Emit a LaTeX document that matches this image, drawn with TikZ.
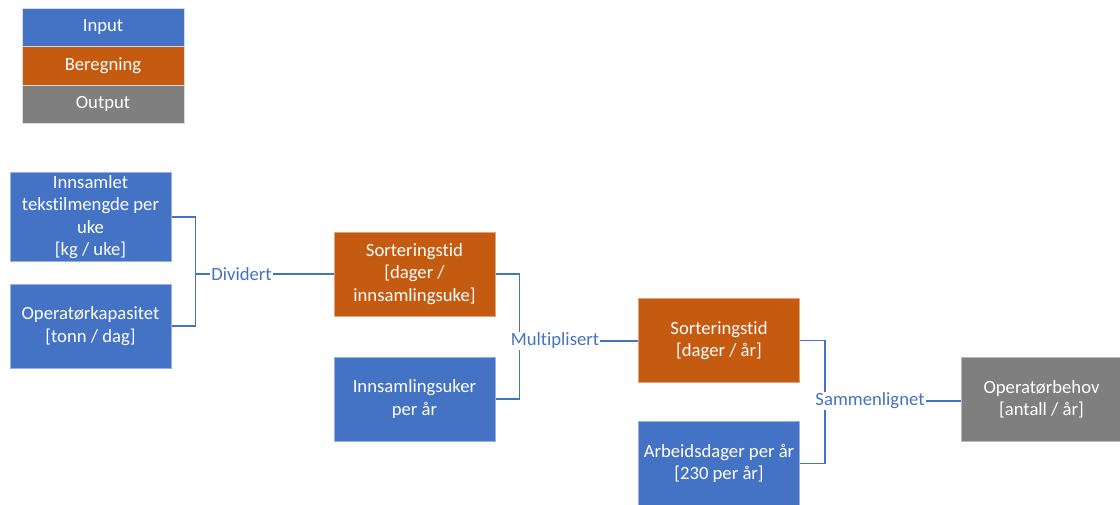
\documentclass[tikz,border=0pt]{standalone}
\usepackage{fontspec}
\setmainfont{Carlito}[Ligatures=NoCommon]
\usetikzlibrary{backgrounds}
\definecolor{inblue}{HTML}{4472C4}
\definecolor{calcorange}{HTML}{C55A11}
\definecolor{outgray}{HTML}{7F7F7F}
\tikzset{
  box/.style={rectangle, minimum width=120.75pt, minimum height=63pt, inner sep=2pt,
    text=white, align=center, font=\fontsize{14}{16.8}\selectfont, line width=0.6pt},
  inbox/.style={box, fill=inblue, draw=inblue!55!white},
  calcbox/.style={box, fill=calcorange, draw=calcorange!55!white},
  outbox/.style={box, fill=outgray, draw=outgray!55!white},
  legend/.style={rectangle, minimum width=121.5pt, minimum height=28.9pt, inner sep=0pt,
    text=white, font=\fontsize{14}{16.8}\selectfont, draw=black!15, line width=0.6pt},
  oplabel/.style={fill=white, text=inblue, inner sep=1pt, font=\fontsize{14}{16.8}\selectfont},
  link/.style={draw=inblue, line width=1.1pt},
}
\begin{document}
\begin{tikzpicture}[x=0.75pt, y=-0.75pt]
\useasboundingbox (0,0) rectangle (1120,504);

% legend
\node[legend, fill=inblue] (lgin) at (103,27.3) {\raisebox{-1.2pt}{Input}};
\node[legend, fill=calcorange] (lgcalc) at (103,65.8) {\raisebox{-1.2pt}{Beregning}};
\node[legend, fill=outgray] (lgout) at (103,104.3) {\raisebox{-1.2pt}{Output}};

% quantities
\node[inbox] (mengde) at (90.5,217) {Innsamlet\\tekstilmengde per\\uke\\{}[kg / uke]};
\node[inbox] (kapasitet) at (90.5,326) {Operatørkapasitet\\{}[tonn / dag]};
\node[calcbox] (tiduke) at (414.5,274) {Sorteringstid\\{}[dager /\\innsamlingsuke]};
\node[inbox] (uker) at (414.5,399) {Innsamlingsuker\\per år};
\node[calcbox] (tidaar) at (719,340.5) {Sorteringstid\\{}[dager / år]};
\node[inbox] (dager) at (719,463.5) {Arbeidsdager per år\\{}[230 per år]};
\node[outbox] (behov) at (1041.5,399.5) {Operatørbehov\\{}[antall / år]};

% operations
\node[oplabel] (div) at (241.5,274) {Dividert};
\node[oplabel] (mul) at (555,341) {Multiplisert};
\node[oplabel] (sam) at (870,401) {Sammenlignet};

% connectors, kept under the operation labels
\begin{scope}[on background layer]
\draw[link] (mengde.east) -- ++(24,0) |- (div.center);
\draw[link] (kapasitet.east) -- ++(24,0) |- (div.center);
\draw[link] (div.center) -- (tiduke.west);
\draw[link] (tiduke.east) -- ++(24,0) |- (mul.center);
\draw[link] (uker.east) -- ++(24,0) |- (mul.center);
\draw[link] (mul.center) -- (mul.center -| tidaar.west);
\draw[link] (tidaar.east) -- ++(25,0) |- (sam.center);
\draw[link] (dager.east) -- ++(25,0) |- (sam.center);
\draw[link] (sam.center) -- (sam.center -| behov.west);
\end{scope}
\end{tikzpicture}
\end{document}
